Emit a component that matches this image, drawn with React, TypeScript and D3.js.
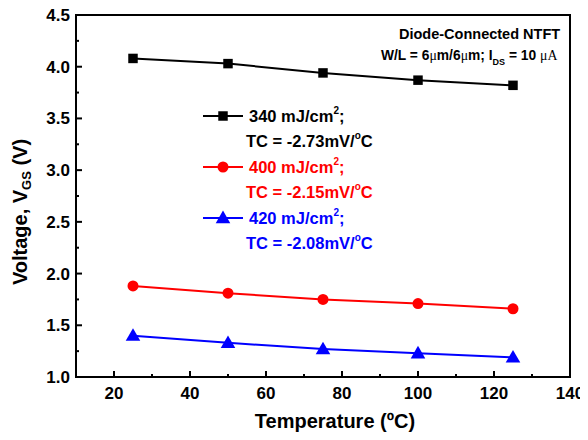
import React, { useEffect, useRef } from "react";
import * as d3 from "d3";

const temps = [25, 50, 75, 100, 125];
const v340 = [4.08, 4.03, 3.94, 3.87, 3.82];
const v400 = [1.88, 1.81, 1.75, 1.71, 1.66];
const v420 = [1.40, 1.33, 1.27, 1.23, 1.19];
const xTicks = [20, 40, 60, 80, 100, 120, 140];
const yTicks = [1.0, 1.5, 2.0, 2.5, 3.0, 3.5, 4.0, 4.5];

const series = [
  { name: "340", vals: v340, color: "#000000", shape: "square", tc: "-2.73" },
  { name: "400", vals: v400, color: "#ff0000", shape: "circle", tc: "-2.15" },
  { name: "420", vals: v420, color: "#0000ff", shape: "triangle", tc: "-2.08" },
];

const W = 588, H = 440;
const m = { left: 76, right: 18, top: 15, bottom: 63 };

export default function App() {
  const ref = useRef<SVGSVGElement>(null);

  useEffect(() => {
    const svg = d3.select(ref.current);
    svg.selectAll("*").remove();
    const font = "'Liberation Sans', Arial, sans-serif";

    const x = d3.scaleLinear().domain([10, 140]).range([m.left, W - m.right]);
    const y = d3.scaleLinear().domain([1.0, 4.5]).range([H - m.bottom, m.top]);

    const symbolFor = (s: string) =>
      s === "square" ? d3.symbolSquare : s === "circle" ? d3.symbolCircle : d3.symbolTriangle;
    const sizeFor = (s: string) => (s === "square" ? 90 : s === "circle" ? 95 : 92);

    // data lines & markers
    series.forEach((s) => {
      const pts = temps.map((t, i) => [x(t), y(s.vals[i])] as [number, number]);
      svg.append("path")
        .attr("d", d3.line()(pts))
        .attr("fill", "none")
        .attr("stroke", s.color)
        .attr("stroke-width", 2);
      svg.append("g").selectAll("path")
        .data(pts)
        .join("path")
        .attr("transform", (d) => `translate(${d[0]},${d[1] + (s.shape === "triangle" ? 1 : 0)})`)
        .attr("d", d3.symbol().type(symbolFor(s.shape)).size(sizeFor(s.shape))())
        .attr("fill", s.color);
    });

    // frame
    svg.append("rect")
      .attr("x", m.left).attr("y", m.top)
      .attr("width", W - m.right - m.left).attr("height", H - m.bottom - m.top)
      .attr("fill", "none").attr("stroke", "#000").attr("stroke-width", 2);

    // x axis ticks (inward)
    const xMinor = d3.range(30, 140, 20);
    const xAxisG = svg.append("g");
    xTicks.forEach((t) => {
      xAxisG.append("line").attr("x1", x(t)).attr("x2", x(t))
        .attr("y1", H - m.bottom).attr("y2", H - m.bottom - 6)
        .attr("stroke", "#000").attr("stroke-width", 2);
      xAxisG.append("text").attr("x", x(t)).attr("y", H - m.bottom + 22)
        .attr("text-anchor", "middle").attr("font-family", font)
        .attr("font-weight", "bold").attr("font-size", 17).text(t);
    });
    xMinor.forEach((t) => {
      xAxisG.append("line").attr("x1", x(t)).attr("x2", x(t))
        .attr("y1", H - m.bottom).attr("y2", H - m.bottom - 3)
        .attr("stroke", "#000").attr("stroke-width", 2);
    });

    // y axis ticks (inward)
    const yMinor = d3.range(1.25, 4.5, 0.5);
    const yAxisG = svg.append("g");
    yTicks.forEach((t) => {
      yAxisG.append("line").attr("x1", m.left).attr("x2", m.left + 6)
        .attr("y1", y(t)).attr("y2", y(t))
        .attr("stroke", "#000").attr("stroke-width", 2);
      yAxisG.append("text").attr("x", m.left - 6).attr("y", y(t) + 6)
        .attr("text-anchor", "end").attr("font-family", font)
        .attr("font-weight", "bold").attr("font-size", 17).text(t.toFixed(1));
    });
    yMinor.forEach((t) => {
      yAxisG.append("line").attr("x1", m.left).attr("x2", m.left + 3)
        .attr("y1", y(t)).attr("y2", y(t))
        .attr("stroke", "#000").attr("stroke-width", 2);
    });

    // axis titles
    svg.append("text").attr("x", 335).attr("y", 428)
      .attr("text-anchor", "middle").attr("font-family", font)
      .attr("font-weight", "bold").attr("font-size", 20).text("Temperature (ºC)");

    const yl = svg.append("text")
      .attr("transform", `translate(27,212) rotate(-90)`)
      .attr("text-anchor", "middle").attr("font-family", font)
      .attr("font-weight", "bold").attr("font-size", 20);
    yl.append("tspan").text("Voltage, V");
    yl.append("tspan").attr("font-size", 13).attr("dy", 4).text("GS");
    yl.append("tspan").attr("dy", -4).text(" (V)");

    // annotation
    svg.append("text").attr("x", 399).attr("y", 39)
      .attr("font-family", font).attr("font-weight", "bold").attr("font-size", 14.5)
      .text("Diode-Connected NTFT");
    const ann = svg.append("text").attr("x", 381).attr("y", 60)
      .attr("font-family", font).attr("font-weight", "bold").attr("font-size", 13.8);
    ann.append("tspan").text("W/L = 6");
    ann.append("tspan").attr("font-family", "'Liberation Serif', serif").attr("font-weight", "normal").text("μ");
    ann.append("tspan").text("m/6");
    ann.append("tspan").attr("font-family", "'Liberation Serif', serif").attr("font-weight", "normal").text("μ");
    ann.append("tspan").text("m; I");
    ann.append("tspan").attr("font-size", 9).attr("dy", 5).text("DS");
    ann.append("tspan").attr("dy", -5).text(" = 10 ");
    ann.append("tspan").attr("font-family", "'Liberation Serif', serif").attr("font-weight", "normal").text("μA");

    // legend
    const legY = [116, 167, 218];
    series.forEach((s, i) => {
      const g = svg.append("g").attr("transform", `translate(0,${legY[i]})`);
      g.append("line").attr("x1", 203).attr("x2", 243).attr("y1", 0).attr("y2", 0)
        .attr("stroke", s.color).attr("stroke-width", 2);
      g.append("path").attr("transform", `translate(223,${s.shape === "triangle" ? 1 : 0})`)
        .attr("d", d3.symbol().type(symbolFor(s.shape)).size(sizeFor(s.shape))())
        .attr("fill", s.color);
      const t1 = g.append("text").attr("x", 249).attr("y", 6)
        .attr("font-family", font).attr("font-weight", "bold").attr("font-size", 16.5)
        .attr("fill", s.color);
      t1.append("tspan").text(`${s.name} mJ/cm`);
      t1.append("tspan").attr("font-size", 10).attr("dy", -8).text("2");
      t1.append("tspan").attr("dy", 8).text(";");
      const t2 = g.append("text").attr("x", 246).attr("y", 31)
        .attr("font-family", font).attr("font-weight", "bold").attr("font-size", 16.5)
        .attr("fill", s.color);
      t2.append("tspan").text(`TC = ${s.tc}mV/`);
      t2.append("tspan").attr("font-size", 10).attr("dy", -8).text("o");
      t2.append("tspan").attr("dy", 8).text("C");
    });
  }, []);

  return <svg ref={ref} width={W} height={H} style={{ display: "block", margin: "-8px" }} />;
}
